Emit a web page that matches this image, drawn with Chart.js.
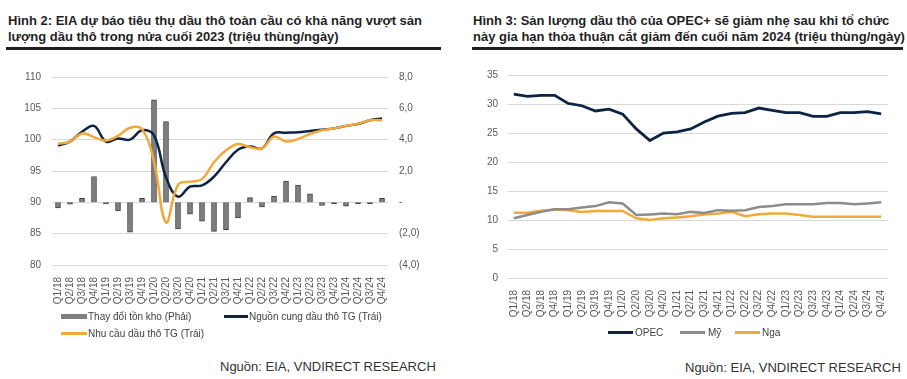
<!DOCTYPE html>
<html>
<head>
<meta charset="utf-8">
<script src="https://cdn.jsdelivr.net/npm/chart.js@4"></script>
<style>
  body { margin: 0; width: 907px; height: 379px; background: #fff; position: relative; overflow: hidden;
         font-family: "Liberation Sans", Arial, sans-serif; }
  .abs { position: absolute; }
  .title { font-size: 13px; font-weight: bold; color: #1f1f1f; line-height: 15.5px; white-space: nowrap; }
  .rule { height: 3px; background: #1f1f1f; }
  .src { font-size: 13px; color: #333; white-space: nowrap; }
  .leg { font-size: 10px; color: #404040; white-space: nowrap; line-height: 12px; }
  .sw { position: absolute; }
</style>
</head>
<body>
<div class="abs title" style="left:8px;top:13px">Hình 2: EIA dự báo tiêu thụ dầu thô toàn cầu có khả năng vượt sản<br>lượng dầu thô trong nửa cuối 2023 (triệu thùng/ngày)</div>
<div class="abs rule" style="left:6px;top:47px;width:435px"></div>
<div class="abs title" style="left:473px;top:13px">Hình 3: Sản lượng dầu thô của OPEC+ sẽ giảm nhẹ sau khi tổ chức<br>này gia hạn thỏa thuận cắt giảm đến cuối năm 2024 (triệu thùng/ngày)</div>
<div class="abs rule" style="left:472px;top:47px;width:431px"></div>

<div class="abs" style="left:0;top:60px"><canvas id="leftChart" width="450" height="245"></canvas></div>
<div class="abs" style="left:455px;top:60px"><canvas id="rightChart" width="452" height="258"></canvas></div>

<!-- legends -->
<div class="sw" style="left:61px;top:314px;width:26px;height:5px;background:#7f7f7f;border:0"></div>
<div class="abs leg" style="left:88px;top:311px">Thay đổi tồn kho (Phải)</div>
<div class="sw" style="left:224px;top:315px;width:24px;height:3px;background:#0d2344"></div>
<div class="abs leg" style="left:249px;top:311px">Nguồn cung dầu thô TG (Trái)</div>
<div class="sw" style="left:61px;top:332px;width:26px;height:3px;background:#f2a93b"></div>
<div class="abs leg" style="left:88px;top:328px">Nhu cầu dầu thô TG (Trái)</div>

<div class="sw" style="left:608px;top:331px;width:25px;height:3px;background:#0d2344"></div>
<div class="abs leg" style="left:635px;top:327px">OPEC</div>
<div class="sw" style="left:680px;top:331px;width:25px;height:3px;background:#8c8c8c"></div>
<div class="abs leg" style="left:708px;top:327px">Mỹ</div>
<div class="sw" style="left:735px;top:331px;width:25px;height:3px;background:#f2a93b"></div>
<div class="abs leg" style="left:762px;top:327px">Nga</div>

<div class="abs src" style="left:220px;top:359px">Nguồn: EIA, VNDIRECT RESEARCH</div>
<div class="abs src" style="left:685px;top:360px">Nguồn: EIA, VNDIRECT RESEARCH</div>

<script>
// quarter labels shared by both charts
const quarters = [
  "Q1/18", "Q2/18", "Q3/18", "Q4/18", "Q1/19", "Q2/19", "Q3/19", "Q4/19",
  "Q1/20", "Q2/20", "Q3/20", "Q4/20", "Q1/21", "Q2/21", "Q3/21", "Q4/21",
  "Q1/22", "Q2/22", "Q3/22", "Q4/22", "Q1/23", "Q2/23", "Q3/23", "Q4/23",
  "Q1/24", "Q2/24", "Q3/24", "Q4/24"
];

// Hinh 2 (trieu thung/ngay)
const inventoryChange = [
  -0.35, -0.12, 0.25, 1.65, -0.1, -0.55, -1.9, 0.25,
  6.55, 5.15, -1.7, -0.75, -1.2, -1.85, -1.75, -1.0,
  0.3, -0.3, 0.4, 1.35, 1.1, 0.55, -0.2, -0.08,
  -0.25, -0.08, -0.08, 0.25
];
const worldSupply = [
  99.05, 99.7, 101.25, 102.2, 99.7, 100.2, 100.0, 101.5,
  100.7, 94.0, 90.9, 92.5, 92.7, 94.1, 96.4, 98.4,
  98.9, 98.6, 101.0, 101.1, 101.2, 101.4, 101.6, 101.8,
  102.2, 102.5, 103.1, 103.4
];
const worldDemand = [
  99.3, 99.7, 101.0, 100.4, 99.85, 100.6, 101.9, 101.7,
  96.5, 86.8, 92.8, 93.3, 93.7, 96.4, 98.3, 99.3,
  98.8, 98.6, 100.5, 99.7, 100.1, 100.9, 101.5, 101.8,
  102.2, 102.55, 103.1, 103.1
];

// Hinh 3 (trieu thung/ngay)
const opecOutput = [
  31.7, 31.3, 31.5, 31.5, 30.1, 29.7, 28.8, 29.1,
  28.25, 25.7, 23.7, 25.0, 25.2, 25.7, 26.9, 27.9,
  28.4, 28.5, 29.3, 28.9, 28.5, 28.5, 27.85, 27.85,
  28.5, 28.5, 28.7, 28.3
];
const usOutput = [
  10.3, 10.85, 11.4, 11.85, 11.85, 12.15, 12.4, 13.05,
  12.85, 10.85, 10.95, 11.1, 11.0, 11.4, 11.2, 11.7,
  11.6, 11.7, 12.25, 12.4, 12.7, 12.7, 12.7, 12.95,
  12.95, 12.7, 12.85, 13.05
];
const russiaOutput = [
  11.25, 11.25, 11.6, 11.8, 11.7, 11.4, 11.55, 11.55,
  11.55, 10.3, 10.0, 10.3, 10.45, 10.65, 10.95, 11.1,
  11.4, 10.65, 11.0, 11.1, 11.1, 10.85, 10.55, 10.55,
  10.55, 10.55, 10.55, 10.55
];

const navy = "#0d2344";
const orange = "#f2a93b";
const tickFont = { family: "'Liberation Sans', Arial, sans-serif", size: 10 };
const tickColor = "#595959";
const gridColor = "#d9d9d9";

const fmtRight = v => {
  if (v === 0) return "-";
  const s = Math.abs(v).toFixed(1).replace(".", ",");
  return v < 0 ? "(" + s + ")" : s;
};

const xAxis = (h) => ({
  offset: true,
  grid: { display: false },
  border: { display: false },
  ticks: { autoSkip: false, maxRotation: 90, minRotation: 90, font: tickFont, color: tickColor, padding: 4 },
  afterFit: s => { s.height = h; },
});

new Chart(document.getElementById("leftChart"), {
  data: {
    labels: quarters,
    datasets: [
      {
        type: "line",
        label: "Nhu cầu dầu thô TG (Trái)",
        data: worldDemand,
        borderColor: orange,
        borderWidth: 2.5,
        pointRadius: 0,
        tension: 0.4,
        yAxisID: "y",
        order: 0,
      },
      {
        type: "line",
        label: "Nguồn cung dầu thô TG (Trái)",
        data: worldSupply,
        borderColor: navy,
        borderWidth: 2.5,
        pointRadius: 0,
        tension: 0.4,
        yAxisID: "y",
        order: 1,
      },
      {
        type: "bar",
        label: "Thay đổi tồn kho (Phải)",
        data: inventoryChange,
        backgroundColor: "#808080",
        borderColor: "#404040",
        borderWidth: 1,
        barThickness: 5,
        yAxisID: "y1",
        order: 2,
      },
    ],
  },
  options: {
    responsive: false,
    animation: false,
    layout: { padding: { top: 14, left: 0, right: 0, bottom: 0 } },
    plugins: { legend: { display: false }, tooltip: { enabled: false } },
    scales: {
      x: xAxis(40),
      y: {
        position: "left",
        min: 80, max: 110,
        ticks: { stepSize: 5, font: tickFont, color: tickColor, padding: 11 },
        grid: { color: gridColor, drawTicks: false },
        border: { display: false },
        afterFit: s => { s.width = 52; },
      },
      y1: {
        position: "right",
        min: -4, max: 8,
        ticks: { stepSize: 2, font: tickFont, color: tickColor, padding: 11, callback: fmtRight },
        grid: { display: false, drawTicks: false },
        border: { display: false },
        afterFit: s => { s.width = 62; },
      },
    },
  },
});

new Chart(document.getElementById("rightChart"), {
  type: "line",
  data: {
    labels: quarters,
    datasets: [
      { label: "OPEC", data: opecOutput, borderColor: navy, borderWidth: 2.8, pointRadius: 0, tension: 0 },
      { label: "Mỹ", data: usOutput, borderColor: "#8c8c8c", borderWidth: 2.5, pointRadius: 0, tension: 0 },
      { label: "Nga", data: russiaOutput, borderColor: orange, borderWidth: 2.5, pointRadius: 0, tension: 0 },
    ],
  },
  options: {
    responsive: false,
    animation: false,
    layout: { padding: { top: 14, left: 0, right: 19, bottom: 0 } },
    plugins: { legend: { display: false }, tooltip: { enabled: false } },
    scales: {
      x: xAxis(40),
      y: {
        min: 0, max: 35,
        ticks: { stepSize: 5, font: tickFont, color: tickColor, padding: 9 },
        grid: { color: gridColor, drawTicks: false },
        border: { display: false },
        afterFit: s => { s.width = 52; },
      },
    },
  },
});
</script>
</body>
</html>
